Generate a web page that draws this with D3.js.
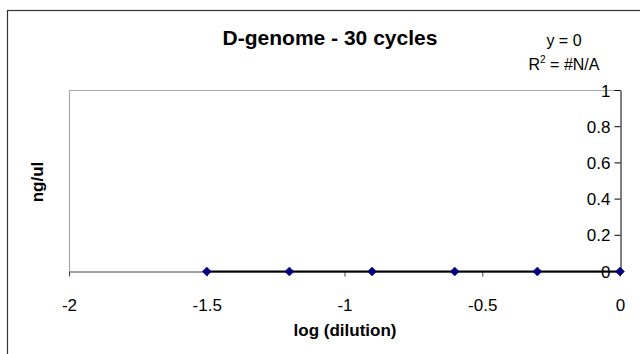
<!DOCTYPE html>
<html><head><meta charset="utf-8">
<script src="https://cdn.jsdelivr.net/npm/d3@7"></script>
<style>body{margin:0;background:#fff}svg{display:block;font-family:"Liberation Sans",Arial,sans-serif}</style>
</head><body><svg id="c" width="640" height="354"></svg>
<script>
const xValues = [-1.5, -1.2, -0.9, -0.6, -0.3, 0];
const yValues = [0, 0, 0, 0, 0, 0];
const xTicks = [-2, -1.5, -1, -0.5, 0];
const yTicks = [0, 0.2, 0.4, 0.6, 0.8, 1];
const title = "D-genome - 30 cycles";
const xTitle = "log (dilution)";
const yTitle = "ng/ul";

const svg = d3.select("#c");
const m = {l:69, r:620, t:90, b:271};
const x = d3.scaleLinear().domain([-2,0]).range([m.l,m.r]);
const y = d3.scaleLinear().domain([0,1]).range([m.b,m.t]);

// outer chart border (clipped at right/bottom)
svg.append("rect").attr("x",7.5).attr("y",10.5).attr("width",700).attr("height",400)
  .attr("fill","none").attr("stroke","#333").attr("stroke-width",1.2);

// plot area border
svg.append("path").attr("d",`M${m.l+0.5},${m.b}V${m.t+0.5}H${m.r}`)
  .attr("fill","none").attr("stroke","#a8a8a8").attr("stroke-width",1.2);

// x axis
const xa = svg.append("g").attr("transform",`translate(0,${m.b+0.5})`)
  .call(d3.axisBottom(x).tickValues(xTicks).tickSize(5).tickSizeOuter(0).tickFormat(d=>String(d)));
xa.select(".domain").attr("stroke","#444");
xa.selectAll(".tick line").attr("stroke","#444");
xa.selectAll("text").attr("font-size",17).attr("fill","#000").attr("y",27);

// y axis on the right (crosses at x=0)
const ya = svg.append("g").attr("transform",`translate(${m.r+0.5},0)`)
  .call(d3.axisLeft(y).tickValues(yTicks).tickSize(6).tickSizeOuter(0).tickFormat(d=>String(d)));
ya.select(".domain").attr("stroke","#000");
ya.selectAll(".tick line").attr("stroke","#000");
ya.selectAll("text").attr("font-size",17).attr("fill","#000").attr("x",-10).attr("dy","0.36em");

// trendline
const pts = xValues.map((v,i)=>[v,yValues[i]]);
svg.append("line").attr("x1",x(d3.min(xValues))).attr("x2",x(d3.max(xValues)))
  .attr("y1",y(0)+0.5).attr("y2",y(0)+0.5).attr("stroke","#000").attr("stroke-width",2.2);

// diamond markers
svg.selectAll(".pt").data(pts).enter().append("path")
  .attr("d",d=>`M${x(d[0])},${y(d[1])+0.5-4.5}l4.5,4.5l-4.5,4.5l-4.5,-4.5z`)
  .attr("fill","#000080").attr("stroke","#000080").attr("stroke-width",0.5);

// titles
svg.append("text").attr("x",330).attr("y",45).attr("text-anchor","middle")
  .attr("font-size",21).attr("font-weight","bold").text(title);
svg.append("text").attr("x",345).attr("y",336).attr("text-anchor","middle")
  .attr("font-size",17).attr("font-weight","bold").text(xTitle);
svg.append("text").attr("transform",`translate(43,182) rotate(-90)`)
  .attr("text-anchor","middle").attr("font-size",17).attr("font-weight","bold").text(yTitle);

// equation labels
svg.append("text").attr("x",564).attr("y",46).attr("text-anchor","middle").attr("font-size",16).text("y = 0");
const r2 = svg.append("text").attr("x",564).attr("y",70).attr("text-anchor","middle").attr("font-size",16);
r2.append("tspan").text("R");
r2.append("tspan").attr("font-size",10).attr("dy",-7).text("2");
r2.append("tspan").attr("dy",7).text(" = #N/A");
</script></body></html>
